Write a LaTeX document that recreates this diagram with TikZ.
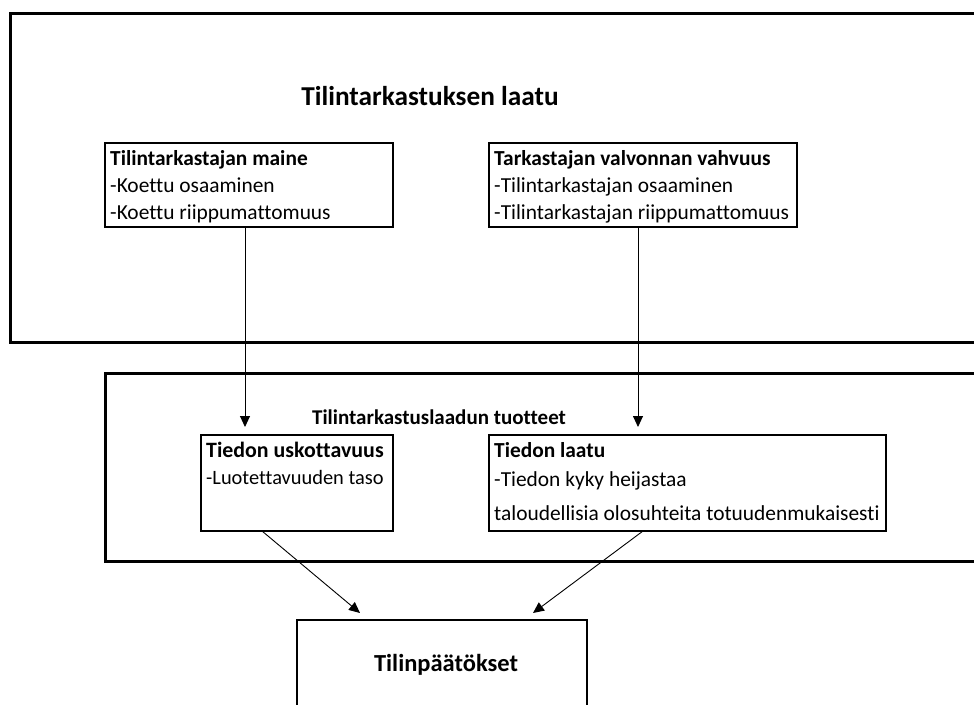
\documentclass[tikz,border=0pt]{standalone}
\usepackage{fontspec}
\setmainfont{Carlito}[Ligatures=NoCommon]
\usetikzlibrary{arrows.meta}
\begin{document}
\begin{tikzpicture}[x=1pt,y=-1pt,
  frame/.style={draw, line width=3pt, inner sep=0pt, outer sep=0pt, anchor=north west},
  box/.style={draw, line width=2.6pt, inner sep=0pt, outer sep=0pt, anchor=north west},
  txt/.style={anchor=base west, inner sep=0pt, font=\fontsize{21.4}{25}\selectfont},
  hd/.style={anchor=base west, inner sep=0pt, font=\fontsize{21.4}{25}\selectfont\bfseries},
  ttl/.style={inner sep=0pt, font=\fontsize{21}{25}\selectfont\bfseries},
  arr/.style={line width=0.9pt, -{Triangle[length=11pt,width=10pt]}}]
\useasboundingbox (0,0) rectangle (974,704);
\clip (0,0) rectangle (974,704);
% outer frames
\node[frame, minimum width=1000pt, minimum height=329pt] (outer) at (10,13) {};
\node[frame, minimum width=900pt, minimum height=188pt] (inner) at (105,373) {};
% titles
\node[ttl, font=\fontsize{27.3}{31}\selectfont\bfseries] (t1) at (430,96) {Tilintarkastuksen laatu};
\node[ttl] (t2) at (439,417) {Tilintarkastuslaadun tuotteet};
% box A
\node[box, minimum width=288pt, minimum height=84pt] (A) at (105,143) {};
\node[hd] (a1) at (110,165) {Tilintarkastajan maine};
\node[txt] (a2) at (110,192) {-Koettu osaaminen};
\node[txt] (a3) at (110,219) {-Koettu riippumattomuus};
% box B
\node[box, minimum width=308pt, minimum height=84pt] (B) at (489,143) {};
\node[hd] (b1) at (494,165) {Tarkastajan valvonnan vahvuus};
\node[txt] (b2) at (494,192) {-Tilintarkastajan osaaminen};
\node[txt] (b3) at (494,219) {-Tilintarkastajan riippumattomuus};
% box C
\node[box, minimum width=192pt, minimum height=96pt] (C) at (201,435) {};
\node[hd, font=\fontsize{21.9}{25}\selectfont\bfseries] (c1) at (206,457) {Tiedon uskottavuus};
\node[txt, font=\fontsize{20.4}{25}\selectfont] (c2) at (206,484) {-Luotettavuuden taso};
% box D
\node[box, minimum width=397pt, minimum height=96pt] (D) at (489,435) {};
\node[hd] (d1) at (494,457) {Tiedon laatu};
\node[txt] (d2) at (494,486) {-Tiedon kyky heijastaa};
\node[txt] (d3) at (494,520) {taloudellisia olosuhteita totuudenmukaisesti};
% box E
\node[box, minimum width=290pt, minimum height=120pt] (E) at (297,620) {};
\node[ttl, font=\fontsize{24.5}{29}\selectfont\bfseries] (e1) at (446,665) {Tilinpäätökset};
% arrow tips
\coordinate (tA) at (245,427);
\coordinate (tB) at (638,427);
\coordinate (sC) at (262,531);
\coordinate (tC) at (360,613);
\coordinate (sD) at (643,531);
\coordinate (tD) at (533,613);
\draw[arr] (A.south -| tA) -- (tA);
\draw[arr] (B.south -| tB) -- (tB);
\draw[arr] (sC) -- (tC);
\draw[arr] (sD) -- (tD);
\end{tikzpicture}
\end{document}
